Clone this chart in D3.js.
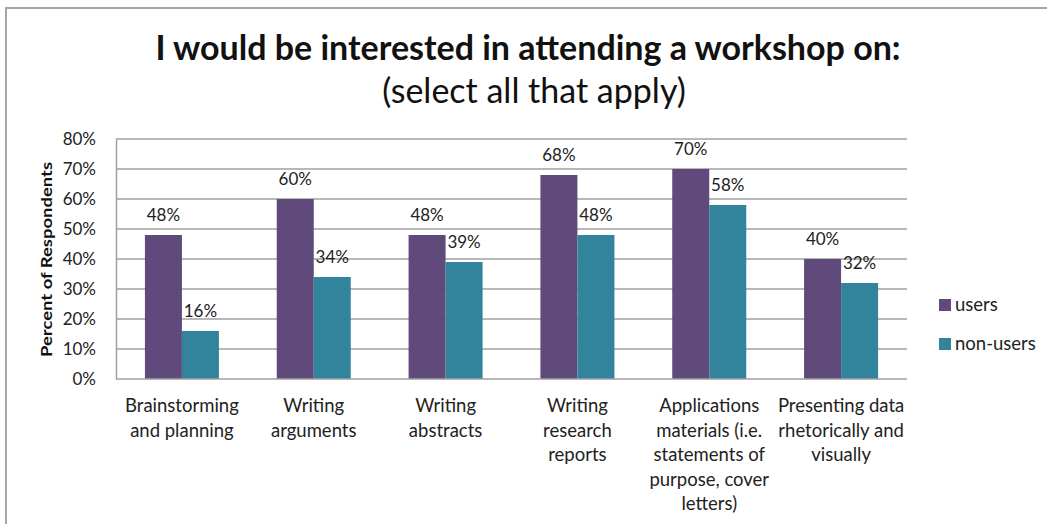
<!DOCTYPE html>
<html>
<head>
<meta charset="utf-8">
<script src="https://cdn.jsdelivr.net/npm/d3@7"></script>
<style>
  html, body { margin: 0; padding: 0; background: #fff; }
  svg { display: block; font-family: Lato, "Open Sans", sans-serif; }
</style>
</head>
<body>
<svg id="chart" width="1047" height="524"></svg>
<script>
// Workshop interest survey: share of respondents per topic, users vs non-users
const categories = [
  ["Brainstorming", "and planning"],
  ["Writing", "arguments"],
  ["Writing", "abstracts"],
  ["Writing", "research", "reports"],
  ["Applications", "materials (i.e.", "statements of", "purpose, cover", "letters)"],
  ["Presenting data", "rhetorically and", "visually"]
];
const seriesNames = ["users", "non-users"];
const usersValues = [48, 60, 48, 68, 70, 40];
const nonUsersValues = [16, 34, 39, 48, 58, 32];
const yTicks = [0, 10, 20, 30, 40, 50, 60, 70, 80];
const colors = ["#604A7B", "#31849B"];

const svg = d3.select("#chart");

// outer chart frame
svg.append("rect")
  .attr("x", 6).attr("y", 8)
  .attr("width", 1100).attr("height", 600)
  .attr("fill", "none").attr("stroke", "#a6a6a6").attr("stroke-width", 2);

const plot = { left: 116, right: 907, top: 139, bottom: 379 };

const x0 = d3.scaleBand()
  .domain(d3.range(categories.length))
  .range([plot.left, plot.right]);

const barW = 37;
const x1 = d3.scaleBand()
  .domain(seriesNames)
  .range([0, barW * 2]);

const y = d3.scaleLinear().domain([0, 80]).range([plot.bottom, plot.top]);

// gridlines
svg.append("g")
  .selectAll("line")
  .data(yTicks.filter(d => d > 0))
  .join("line")
  .attr("x1", plot.left).attr("x2", plot.right)
  .attr("y1", d => y(d)).attr("y2", d => y(d))
  .attr("stroke", "#a0a0a0").attr("stroke-width", 1.5);

// value axis
const yAxis = svg.append("g")
  .attr("transform", `translate(${plot.left},0)`)
  .call(d3.axisLeft(y).tickValues(yTicks).tickFormat(d => d + "%").tickSize(0).tickPadding(20));
yAxis.select(".domain").attr("stroke", "#a0a0a0").attr("stroke-width", 1.5);
yAxis.selectAll("text")
  .attr("font-family", "Lato, sans-serif")
  .attr("font-size", 17).attr("fill", "#222");

// bars
const series = [usersValues, nonUsersValues];
const groups = svg.append("g")
  .selectAll("g")
  .data(categories.map((c, i) => i))
  .join("g")
  .attr("transform", i => `translate(${x0(i) + x0.bandwidth() / 2 - barW},0)`);

groups.selectAll("rect")
  .data(i => seriesNames.map((s, k) => ({ s, k, v: series[k][i] })))
  .join("rect")
  .attr("x", d => x1(d.s))
  .attr("width", x1.bandwidth())
  .attr("y", d => y(d.v))
  .attr("height", d => y(0) - y(d.v))
  .attr("fill", d => colors[d.k]);

groups.selectAll("text.val")
  .data(i => seriesNames.map((s, k) => ({ s, k, v: series[k][i] })))
  .join("text")
  .attr("class", "val")
  .attr("x", d => x1(d.s) + x1.bandwidth() / 2)
  .attr("y", d => y(d.v) - 14)
  .attr("text-anchor", "middle")
  .attr("font-size", 17).attr("fill", "#222")
  .text(d => d.v + "%");

// category axis line
svg.append("line")
  .attr("x1", plot.left).attr("x2", plot.right)
  .attr("y1", plot.bottom).attr("y2", plot.bottom)
  .attr("stroke", "#a0a0a0").attr("stroke-width", 1.5);

// category labels
const catLabels = svg.append("g")
  .selectAll("text")
  .data(categories)
  .join("text")
  .attr("x", (d, i) => x0(i) + x0.bandwidth() / 2)
  .attr("y", 412)
  .attr("text-anchor", "middle")
  .attr("font-size", 18.5).attr("fill", "#222");
catLabels.selectAll("tspan")
  .data(d => d)
  .join("tspan")
  .attr("x", function () { return this.parentNode.getAttribute("x"); })
  .attr("dy", (d, j) => j === 0 ? 0 : 24.5)
  .text(d => d);

// value axis title
svg.append("text")
  .attr("transform", `translate(51.5,259.5) rotate(-90)`)
  .attr("text-anchor", "middle")
  .attr("font-size", 14.5).attr("font-weight", "bold").attr("fill", "#111")
  .attr("textLength", 195).attr("lengthAdjust", "spacingAndGlyphs")
  .text("Percent of Respondents");

// legend
const legend = svg.append("g")
  .selectAll("g")
  .data(seriesNames)
  .join("g")
  .attr("transform", (d, i) => `translate(939,${299 + i * 39})`);
legend.append("rect")
  .attr("width", 12).attr("height", 12)
  .attr("fill", (d, i) => colors[i]);
legend.append("text")
  .attr("x", 16).attr("y", 12)
  .attr("font-size", 18.5).attr("fill", "#222")
  .text(d => d);

// titles
svg.append("text")
  .attr("x", 528).attr("y", 60)
  .attr("text-anchor", "middle")
  .attr("font-size", 34).attr("font-weight", "bold").attr("fill", "#111")
  .text("I would be interested in attending a workshop on:");
svg.append("text")
  .attr("x", 534).attr("y", 103)
  .attr("text-anchor", "middle")
  .attr("font-size", 34).attr("fill", "#111")
  .text("(select all that apply)");
</script>
</body>
</html>
